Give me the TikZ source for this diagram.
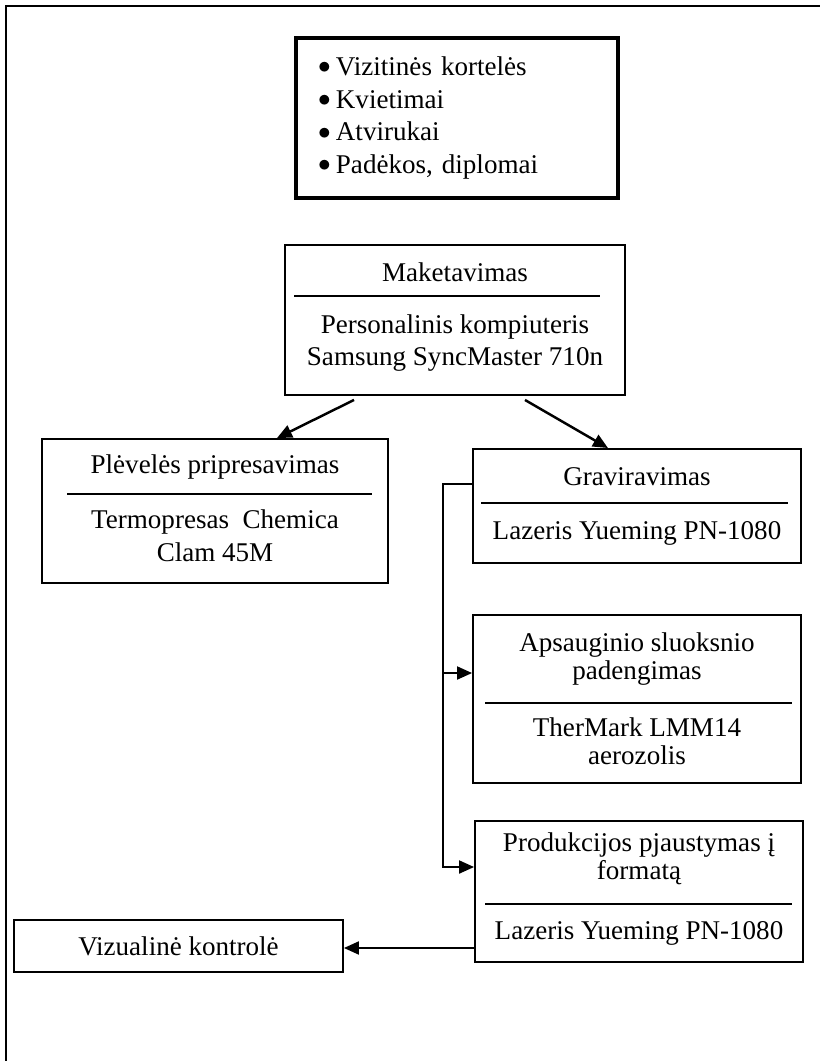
\documentclass[tikz,border=0pt]{standalone}
\usepackage{fontspec}
\setmainfont{Liberation Serif}
\usetikzlibrary{arrows.meta}
\newcommand{\dotitem}{\raisebox{1pt}{$\bullet$}\hspace{3pt}}

\begin{document}
\begin{tikzpicture}[>={Triangle[length=0.3cm,width=0.26cm]},x=0.02cm,y=-0.02cm]
  \tikzstyle{box}=[draw,line width=1.1pt,inner sep=0pt,minimum width=6.56cm,align=center,font=\fontsize{15.4}{16}\selectfont]
  \tikzstyle{txt}=[inner sep=0pt,align=center,font=\fontsize{15.4}{16}\selectfont]
  \tikzstyle{arr}=[line width=1.1pt,->]
  \useasboundingbox (0,0) rectangle (820,1061);
  \draw[line width=1.1pt] (6,1061) -- (6,6) -- (820,6);
  \node[box,line width=2.3pt,minimum width=6.44cm,minimum height=3.2cm,align=left,text width=5.56cm,inner xsep=0.44cm,font=\fontsize{15.4}{18.5}\selectfont] (list) at (457,118)
    {\dotitem Vizitinės kortelės\\\dotitem Kvietimai\\\dotitem Atvirukai\\\dotitem Padėkos, diplomai};
  \node[box,minimum width=6.8cm,minimum height=3cm] (make) at (455,320) {};
  \node[txt] (makeT) at (455,272) {Maketavimas};
  \node[txt] (makeD) at (455,343) {Personalinis kompiuteris\\[2.3pt]Samsung SyncMaster 710n};
  \draw[line width=1.1pt] (294,296) -- (600,296);
  \node[box,minimum width=6.92cm,minimum height=2.88cm] (film) at (215,511) {};
  \node[txt] (filmT) at (215,467) {Plėvelės pripresavimas};
  \node[txt] (filmD) at (215,536) {Termopresas\ \ Chemica\\[2.8pt]Clam 45M};
  \draw[line width=1.1pt] (67,494) -- (372,494);
  \node[box,minimum height=2.28cm] (engrave) at (637,506) {};
  \node[txt] (engraveT) at (637,477) {Graviravimas};
  \node[txt] (engraveD) at (637,533) {Lazeris Yueming PN-1080};
  \draw[line width=1.1pt] (481,503) -- (788,503);
  \node[box,minimum height=3.36cm] (coat) at (637,699) {};
  \node[txt] (coatT) at (637,659) {Apsauginio sluoksnio\\padengimas};
  \node[txt] (coatD) at (637,741.5) {TherMark LMM14\\aerozolis};
  \draw[line width=1.1pt] (485,703) -- (792,703);
  \node[box,minimum height=2.82cm] (cut) at (639,891.5) {};
  \node[txt] (cutT) at (639,858.5) {Produkcijos pjaustymas į\\formatą};
  \node[txt] (cutD) at (639,933) {Lazeris Yueming PN-1080};
  \draw[line width=1.1pt] (485,904) -- (792,904);
  \node[box,minimum width=6.58cm,minimum height=1.04cm] (check) at (178.5,946) {Vizualinė kontrolė};
  \draw[arr,line width=1.4pt] ([xshift=-2.02cm,yshift=-0.08cm]make.south) -- ([xshift=1.24cm]film.north);
  \draw[arr,line width=1.4pt] ([xshift=1.4cm,yshift=-0.08cm]make.south) -- ([xshift=-0.58cm]engrave.north);
  \coordinate (rail) at ([xshift=-0.58cm,yshift=0.44cm]engrave.west);
  \draw[arr] ([yshift=0.44cm]engrave.west) -- (rail) |- ([yshift=0.49cm]cut.west);
  \draw[arr] ([yshift=0.52cm]coat.west -| rail) -- ([yshift=0.52cm]coat.west);
  \draw[arr] ([yshift=-1.13cm]cut.west) -- ([yshift=-1.13cm]cut.west -| check.east);
\end{tikzpicture}
\end{document}
